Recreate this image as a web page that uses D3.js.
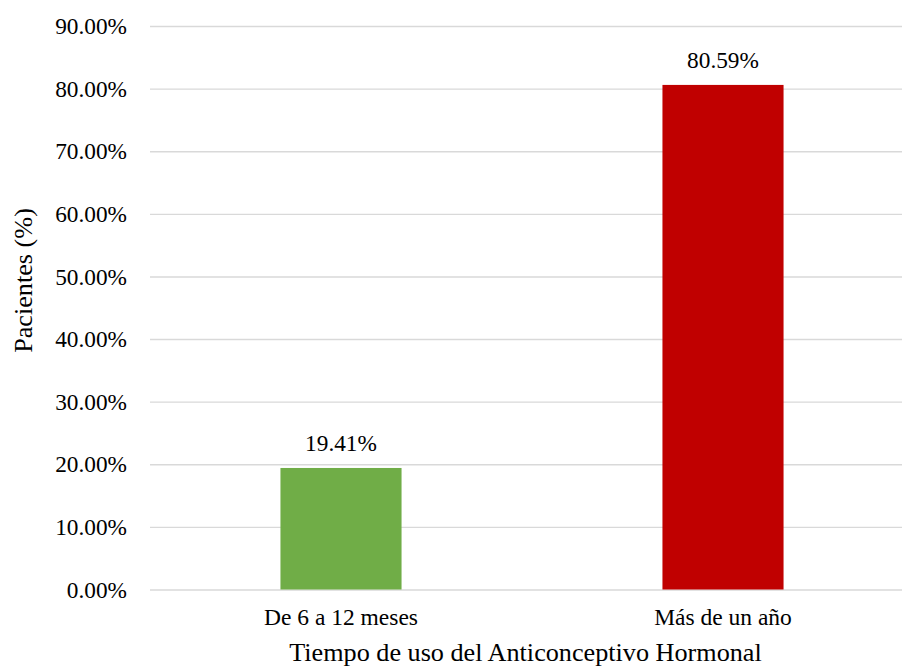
<!DOCTYPE html>
<html>
<head>
<meta charset="utf-8">
<script src="https://cdn.jsdelivr.net/npm/d3@7"></script>
<style>
  html, body { margin: 0; padding: 0; background: #fff; }
  svg { display: block; font-family: "Times New Roman", "Liberation Serif", Tinos, "DejaVu Serif", serif; }
  svg text { font-family: "Times New Roman", "Liberation Serif", Tinos, "DejaVu Serif", serif !important; fill: #000; }
</style>
</head>
<body>
<svg id="chart" width="902" height="666"></svg>
<script>
// Tiempo de uso del anticonceptivo hormonal (% de pacientes)
const categories = ["De 6 a 12 meses", "Más de un año"];
const values = [19.41, 80.59];
const barColors = ["#70ad47", "#c00000"];
const yTicks = [0, 10, 20, 30, 40, 50, 60, 70, 80, 90];
const xTitle = "Tiempo de uso del Anticonceptivo Hormonal";
const yTitle = "Pacientes (%)";

const serif = '"Times New Roman", "Liberation Serif", Tinos, "DejaVu Serif", serif';
const svg = d3.select("#chart");
const plot = { left: 150, right: 914, top: 26, bottom: 589.5 };

const x = d3.scaleBand()
  .domain(categories)
  .range([plot.left, plot.right])
  .paddingInner(0.683)
  .paddingOuter(0.683 / 2);

const y = d3.scaleLinear()
  .domain([0, 90])
  .range([plot.bottom, plot.top]);

const fmt = v => v.toFixed(2) + "%";

// horizontal gridlines + tick labels
const yAxis = d3.axisLeft(y)
  .tickValues(yTicks)
  .tickFormat(fmt)
  .tickSize(-(plot.right - plot.left))
  .tickPadding(23);

const gy = svg.append("g")
  .attr("transform", `translate(${plot.left},0)`)
  .call(yAxis)
  .attr("font-family", serif);
gy.select(".domain").remove();
gy.selectAll(".tick line")
  .attr("stroke", "#d9d9d9")
  .attr("stroke-width", 1.4);
gy.selectAll(".tick text")
  .attr("font-size", "23.3px")
  .attr("fill", "#000")
  .attr("dy", "0.33em");

// bars
svg.append("g").selectAll("rect")
  .data(values)
  .join("rect")
  .attr("x", (d, i) => x(categories[i]))
  .attr("width", x.bandwidth())
  .attr("y", d => y(d))
  .attr("height", d => y(0) - y(d))
  .attr("fill", (d, i) => barColors[i]);

// value labels
svg.append("g").selectAll("text")
  .data(values)
  .join("text")
  .attr("x", (d, i) => x(categories[i]) + x.bandwidth() / 2)
  .attr("y", d => y(d) - 16.5)
  .attr("text-anchor", "middle")
  .attr("font-size", "23.3px")
  .text(d => fmt(d));

// category labels
const xAxis = d3.axisBottom(x).tickSize(0).tickPadding(0);
const gx = svg.append("g")
  .attr("transform", `translate(0,${plot.bottom})`)
  .call(xAxis)
  .attr("font-family", serif);
gx.select(".domain").remove();
gx.selectAll(".tick text")
  .attr("font-size", "23.5px")
  .attr("fill", "#000")
  .attr("dy", null)
  .attr("y", 35.5);

// axis titles
svg.append("text")
  .attr("x", 525.5)
  .attr("y", 661)
  .attr("text-anchor", "middle")
  .attr("font-size", "26.2px")
  .text(xTitle);

svg.append("text")
  .attr("transform", "translate(32,280.5) rotate(-90)")
  .attr("text-anchor", "middle")
  .attr("font-size", "26.2px")
  .text(yTitle);
</script>
</body>
</html>
